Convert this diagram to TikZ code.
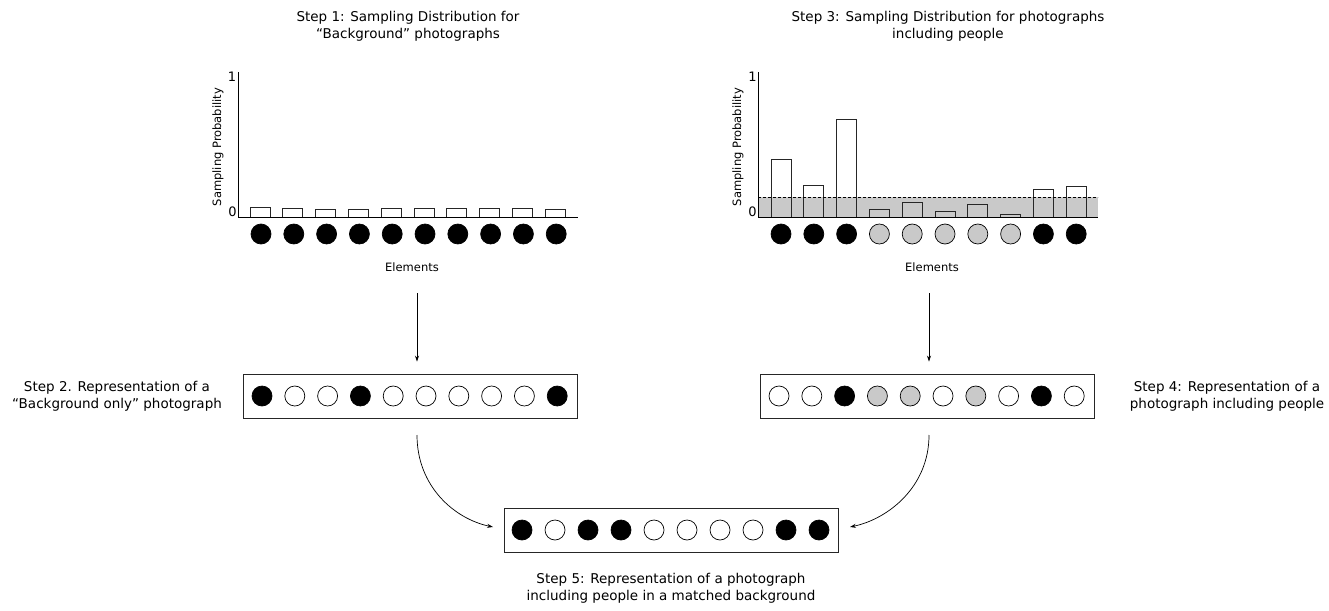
\documentclass[tikz,border=0pt]{standalone}
\usepackage{fontspec}
\setmainfont{DejaVu Sans}
\usetikzlibrary{arrows.meta}
\definecolor{ggray}{gray}{0.79}
\begin{document}
\begin{tikzpicture}[x=1pt,y=-1pt,
 lbl/.style={font=\fontsize{13.5}{17}\selectfont, align=center, inner sep=0pt},
 axl/.style={font=\fontsize{11.5}{14}\selectfont, inner sep=0pt},
 numl/.style={font=\fontsize{13}{15}\selectfont, inner sep=0pt},
 dot/.style={circle, draw=black, line width=0.7pt, minimum size=20pt, inner sep=0pt},
 rowbox/.style={draw=black!85, line width=0.9pt, minimum width=334pt, minimum height=44pt, inner sep=0pt},
 bar/.style={draw=black!85, line width=0.9pt},
 axisline/.style={draw=black, line width=1pt},
 arr/.style={-{Stealth[length=6pt,width=4pt]}, line width=0.7pt},
]
\useasboundingbox[fill=white] (0,0) rectangle (1329,610);

% titles
\node[lbl] (t1) at (408,26.5) {Step 1: Sampling Distribution for\\“Background” photographs};
\node[lbl] (t3) at (948,26.5) {Step 3: Sampling Distribution for photographs\\including people};

% ---------- left chart ----------
\foreach \h [count=\i from 0] in {10,9,8,8,9,9,9,9,9,8} {
  \draw[bar] ({250+32.8*\i},217) rectangle ({270+32.8*\i},{217-\h});
}
\draw[axisline] (238,72) -- (238,217) -- (578,217);
\node[numl] (l1lab) at (232,77) {1};
\node[numl] (l0lab) at (232.5,212) {0};
\node[axl, rotate=90] (lylab) at (218,147) {Sampling Probability};
\foreach \c [count=\i from 0] in {black,black,black,black,black,black,black,black,black,black} {
  \node[dot, fill=\c] (lc\i) at ({261+32.8*\i},234) {};
}
\node[axl] (lel) at (412,267) {Elements};

% ---------- right chart ----------
\fill[ggray] (758,197) rectangle (1098,217);
\foreach \h [count=\i from 0] in {58,32,98,8,15,6,13,3,28,31} {
  \draw[bar] ({771+32.8*\i},217) rectangle ({791+32.8*\i},{217-\h});
}
\draw[black, line width=0.9pt, dash pattern=on 3pt off 2pt] (758,197) -- (1098,197);
\draw[axisline] (758,72) -- (758,217) -- (1098,217);
\node[numl] (r1lab) at (752.5,77) {1};
\node[numl] (r0lab) at (752.5,212) {0};
\node[axl, rotate=90] (rylab) at (738,147) {Sampling Probability};
\foreach \c [count=\i from 0] in {black,black,black,ggray,ggray,ggray,ggray,ggray,black,black} {
  \node[dot, fill=\c] (rc\i) at ({781+32.8*\i},234) {};
}
\node[axl] (rel) at (932,267) {Elements};

% ---------- step 2 ----------
\node[rowbox] (box2) at (410,396) {};
\foreach \c [count=\i from 0] in {black,white,white,black,white,white,white,white,white,black} {
  \node[dot, fill=\c] (b2c\i) at ({262+32.8*\i},396) {};
}
\node[lbl] (s2) at (117,396) {Step 2. Representation of a\\“Background only” photograph};

% ---------- step 4 ----------
\node[rowbox] (box4) at (927,396) {};
\foreach \c [count=\i from 0] in {white,white,black,ggray,ggray,white,ggray,white,black,white} {
  \node[dot, fill=\c] (b4c\i) at ({779+32.8*\i},396) {};
}
\node[lbl] (s4) at (1227,396) {Step 4: Representation of a\\photograph including people};

% ---------- step 5 ----------
\node[rowbox] (box5) at (671.5,530) {};
\foreach \c [count=\i from 0] in {black,white,black,black,white,white,white,white,black,black} {
  \node[dot, fill=\c] (b5c\i) at ({522+33*\i},530) {};
}
\node[lbl] (s5) at (671,588.5) {Step 5: Representation of a photograph\\including people in a matched background};

% ---------- arrows ----------
\coordinate (a1) at (417,293);
\coordinate (a2) at (929,293);
\draw[arr, shorten >=12pt] (a1) -- (a1 |- box2.north);
\draw[arr, shorten >=12pt] (a2) -- (a2 |- box4.north);

\coordinate (c1) at (417,435);
\coordinate (e1) at (493,527);
\coordinate (c2) at (929,435);
\coordinate (e2) at (850,527);
\draw[arr] (c1) .. controls (417,487) and (455,519) .. (e1);
\draw[arr] (c2) .. controls (929,487) and (888,519) .. (e2);
\end{tikzpicture}
\end{document}
